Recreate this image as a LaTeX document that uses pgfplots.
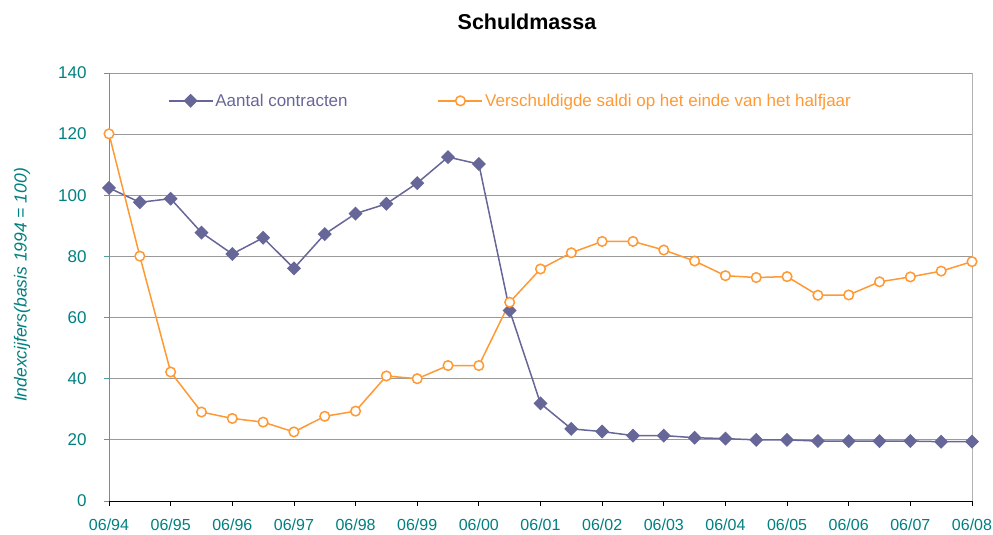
\documentclass[border=0pt]{standalone}
\usepackage{fontspec}
\setmainfont{Liberation Sans}
\usepackage{pgfplots}
\usepackage{pgfplotstable}
\pgfplotsset{compat=1.18}
\definecolor{cblue}{RGB}{102,102,153}
\definecolor{corange}{RGB}{255,153,51}
\definecolor{cteal}{RGB}{0,128,128}
\definecolor{cteal2}{RGB}{80,160,160}
\pgfplotstableread{
x contr saldi
0 102.4 120.1
1 97.7 80.1
2 98.9 42.2
3 87.8 29.1
4 80.8 27.0
5 86.1 25.8
6 76.1 22.6
7 87.3 27.7
8 94.0 29.4
9 97.2 40.9
10 104.0 40.0
11 112.5 44.3
12 110.2 44.3
13 62.3 65.0
14 31.9 75.9
15 23.6 81.2
16 22.7 84.9
17 21.4 84.9
18 21.4 82.1
19 20.7 78.5
20 20.4 73.7
21 20.0 73.1
22 20.0 73.4
23 19.6 67.3
24 19.6 67.4
25 19.6 71.7
26 19.6 73.3
27 19.4 75.2
28 19.4 78.3
}\datatable
\begin{document}
\begin{tikzpicture}
\path[use as bounding box] (0,0) rectangle (993bp,535bp);
\begin{axis}[
  at={(109bp,34bp)}, anchor=south west,
  scale only axis, width=863bp, height=428bp,
  xmin=0, xmax=28, ymin=0, ymax=140,
  axis lines=left, axis line style={-},
  x axis line style={black, line width=1bp},
  y axis line style={cteal2, line width=1bp},
  xtick={0,2,...,28},
  xticklabels={06/94,06/95,06/96,06/97,06/98,06/99,06/00,06/01,06/02,06/03,06/04,06/05,06/06,06/07,06/08},
  ytick={0,20,...,140},
  tick align=outside, major tick length=5bp,
  xtick style={black, line width=0.8bp}, ytick style={cteal2, line width=0.8bp},
  ymajorgrids, grid style={black!40, line width=0.8bp},
  tick label style={font=\fontsize{17bp}{20bp}\selectfont, text=cteal},
  xticklabel style={yshift=-9bp, font=\fontsize{16bp}{19bp}\selectfont},
  yticklabel style={xshift=-14bp},
  /pgf/number format/assume math mode=true,
  clip=false,
  legend style={draw=none, fill=none, at={(axis description cs:0.068,0.935)}, anchor=west, inner sep=0pt,
    font=\fontsize{17bp}{20bp}\selectfont, /tikz/every even column/.append style={column sep=88bp}},
  legend columns=2, legend cell align=left,
  legend image code/.code={\draw[mark repeat=2, mark phase=2, #1] plot coordinates {(0bp,0bp) (22bp,0bp) (44bp,0bp)};},
]
\draw[black!30, line width=1bp] (rel axis cs:1,0) -- (rel axis cs:1,1);
\addplot[cblue, line width=1.5bp, mark=square*, mark size=4.2bp, mark options={fill=cblue, rotate=45}] table[x=x, y=contr] {\datatable};
\addlegendentry{\textcolor{cblue}{Aantal contracten}}
\addplot[corange, line width=1.5bp, mark=*, mark size=4.8bp, mark options={fill=white}] table[x=x, y=saldi] {\datatable};
\addlegendentry{\textcolor{corange}{Verschuldigde saldi op het einde van het halfjaar}}
\end{axis}
\node[font=\fontsize{21.5bp}{24bp}\selectfont\bfseries] at (527bp,513bp) {Schuldmassa};
\node[rotate=90, font=\fontsize{17.5bp}{20bp}\selectfont\itshape, text=cteal] at (22bp,250bp) {Indexcijfers(basis 1994 = 100)};
\end{tikzpicture}
\end{document}
